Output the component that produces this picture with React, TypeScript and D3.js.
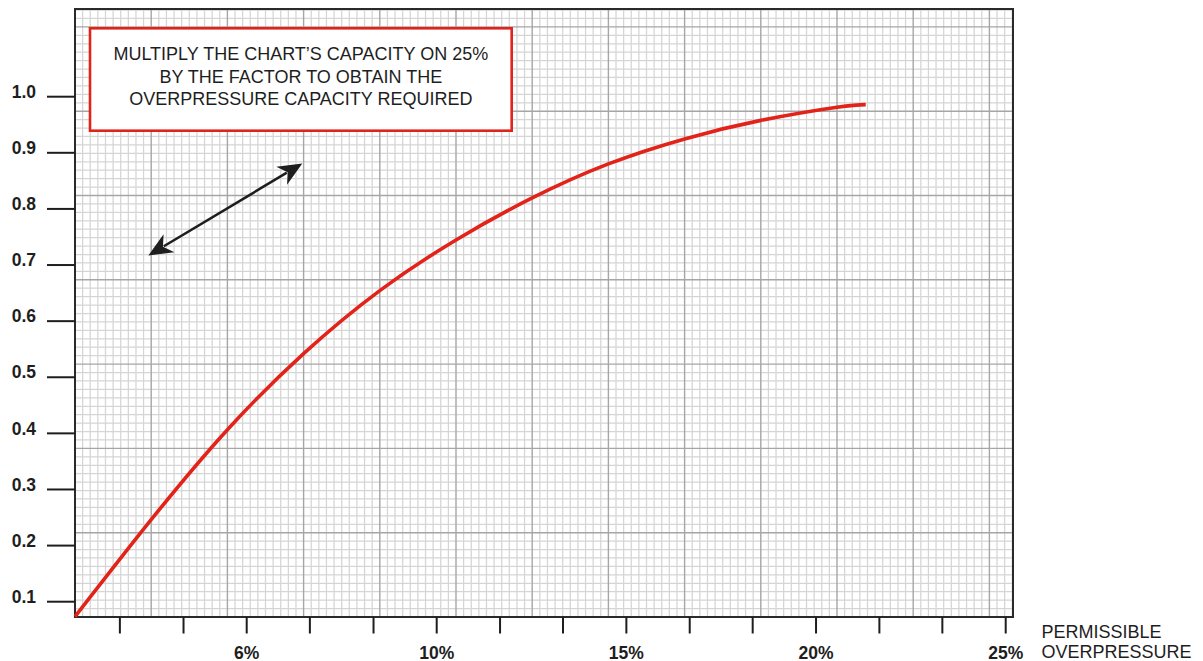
import React from "react";
import * as d3 from "d3";

// ---- data ----
const overpressure = [2.385, 3.989, 5.594, 7.198, 8.802, 10.509, 12.518, 14.527, 16.536, 18.545, 20.554, 21.31];
const factor = [0.0733, 0.2462, 0.4066, 0.5421, 0.6544, 0.7447, 0.8196, 0.8802, 0.9248, 0.9578, 0.9813, 0.9859];

const xTickValues = [3.33, 4.67, 6, 7.33, 8.67, 10, 11.67, 13.33, 15, 16.67, 18.33, 20, 21.67, 23.33, 25];
const xLabelValues = [6, 10, 15, 20, 25];
const xLabelTexts = ["6%", "10%", "15%", "20%", "25%"];

const yTickValues = [0.1, 0.2, 0.3, 0.4, 0.5, 0.6, 0.7, 0.8, 0.9, 1.0];
const yTickLabels = ["0.1", "0.2", "0.3", "0.4", "0.5", "0.6", "0.7", "0.8", "0.9", "1.0"];

const noteLines = [
  "MULTIPLY THE CHART\u2019S CAPACITY ON 25%",
  "BY THE FACTOR TO OBTAIN THE",
  "OVERPRESSURE CAPACITY REQUIRED",
];
const axisTitleLines = ["PERMISSIBLE", "OVERPRESSURE"];

// arrow annotation endpoints, in data units
const arrowFrom = [3.93, 0.717];
const arrowTo = [7.17, 0.881];

// ---- layout ----
const W = 1203;
const H = 661;
const left = 75;
const right = 1013;
const top = 9;
const bottom = 617;
const majorW = 76.2;
const majorH = 84.3;

const FONT = "'Liberation Sans', Arial, Helvetica, sans-serif";
const RED = "#e2231a";
const INK = "#1e1e1e";

const x = d3.scaleLinear().domain([6, 10, 25]).range([246.7, 436.7, 1005.7]);
const y = d3.scaleLinear().domain([0.1, 1.0]).range([601.7, 96.7]);

function arrowHead(tx: number, ty: number, fx: number, fy: number) {
  const dx = fx - tx;
  const dy = fy - ty;
  const len = Math.hypot(dx, dy);
  const ux = dx / len;
  const uy = dy / len;
  const px = -uy;
  const py = ux;
  const L = 24;
  const hw = 10.5;
  const notch = 17;
  const b1 = [tx + ux * L + px * hw, ty + uy * L + py * hw];
  const b2 = [tx + ux * L - px * hw, ty + uy * L - py * hw];
  const n = [tx + ux * notch, ty + uy * notch];
  return `M${tx},${ty}L${b1[0]},${b1[1]}L${n[0]},${n[1]}L${b2[0]},${b2[1]}Z`;
}

export default function App() {
  const minorW = majorW / 10;
  const minorH = majorH / 10;
  const nV = Math.floor((right - left) / minorW + 1e-6);
  const nH = Math.floor((bottom - top) / minorH + 1e-6);
  const vLines = d3.range(0, nV + 1).map((k) => ({ px: left + k * minorW, major: k % 10 === 0 }));
  const hLines = d3.range(0, nH + 1).map((k) => ({ py: bottom - k * minorH, major: k % 10 === 0 }));

  const pts = overpressure.map((v, i) => [v, factor[i]] as [number, number]);
  const line = d3
    .line<[number, number]>()
    .x((d) => x(d[0]))
    .y((d) => y(d[1]))
    .curve(d3.curveNatural);

  const ax0 = x(arrowFrom[0]);
  const ay0 = y(arrowFrom[1]);
  const ax1 = x(arrowTo[0]);
  const ay1 = y(arrowTo[1]);
  const adx = ax1 - ax0;
  const ady = ay1 - ay0;
  const alen = Math.hypot(adx, ady);
  const inset = 18;

  const boxX = 90;
  const boxY = 28.3;
  const boxW = 421.7;
  const boxH = 102.4;

  return (
    <svg
      width={W}
      height={H}
      viewBox={`0 0 ${W} ${H}`}
      style={{ position: "absolute", left: 0, top: 0, background: "#fff" }}
    >
      <rect x={0} y={0} width={W} height={H} fill="#fff" />
      {/* graph paper */}
      <g>
        {vLines
          .filter((l) => !l.major)
          .map((l, i) => (
            <line key={"vm" + i} x1={l.px} x2={l.px} y1={top} y2={bottom} stroke="#d5d5d5" strokeWidth={1.25} />
          ))}
        {hLines
          .filter((l) => !l.major)
          .map((l, i) => (
            <line key={"hm" + i} x1={left} x2={right} y1={l.py} y2={l.py} stroke="#d5d5d5" strokeWidth={1.25} />
          ))}
        {vLines
          .filter((l) => l.major)
          .map((l, i) => (
            <line key={"vM" + i} x1={l.px} x2={l.px} y1={top} y2={bottom} stroke="#a6a6a6" strokeWidth={1.4} />
          ))}
        {hLines
          .filter((l) => l.major)
          .map((l, i) => (
            <line key={"hM" + i} x1={left} x2={right} y1={l.py} y2={l.py} stroke="#a6a6a6" strokeWidth={1.4} />
          ))}
      </g>
      {/* frame */}
      <rect x={left} y={top} width={right - left} height={bottom - top} fill="none" stroke="#2a2a2a" strokeWidth={2} />

      {/* y axis ticks */}
      <g>
        {yTickValues.map((v, i) => (
          <g key={"yt" + i}>
            <line x1={47} x2={left} y1={y(v)} y2={y(v)} stroke={INK} strokeWidth={2} />
            <text
              x={36}
              y={y(v) + 1.2}
              textAnchor="end"
              fontFamily={FONT}
              fontWeight="bold"
              fontSize={17.5}
              fill={INK}
            >
              {yTickLabels[i]}
            </text>
          </g>
        ))}
      </g>

      {/* x axis ticks */}
      <g>
        {xTickValues.map((v, i) => (
          <line key={"xt" + i} x1={x(v)} x2={x(v)} y1={bottom} y2={633.5} stroke={INK} strokeWidth={2} />
        ))}
        {xLabelValues.map((v, i) => (
          <text
            key={"xl" + i}
            x={x(v)}
            y={658.5}
            textAnchor="middle"
            fontFamily={FONT}
            fontWeight="bold"
            fontSize={17.5}
            fill={INK}
          >
            {xLabelTexts[i]}
          </text>
        ))}
        {axisTitleLines.map((t, i) => (
          <text key={"at" + i} x={1041.5} y={638.3 + i * 20} fontFamily={FONT} fontSize={18} fill={INK}>
            {t}
          </text>
        ))}
      </g>

      {/* curve */}
      <path d={line(pts) || ""} fill="none" stroke={RED} strokeWidth={3.6} strokeLinecap="butt" />

      {/* note box */}
      <rect x={boxX} y={boxY} width={boxW} height={boxH} fill="#fff" stroke={RED} strokeWidth={2.6} />
      {noteLines.map((t, i) => (
        <text
          key={"n" + i}
          x={boxX + boxW / 2}
          y={60 + i * 22.6}
          textAnchor="middle"
          fontFamily={FONT}
          fontSize={18}
          fill={INK}
        >
          {t}
        </text>
      ))}

      {/* double arrow */}
      <line
        x1={ax0 + (adx / alen) * inset}
        y1={ay0 + (ady / alen) * inset}
        x2={ax1 - (adx / alen) * inset}
        y2={ay1 - (ady / alen) * inset}
        stroke={INK}
        strokeWidth={2.6}
      />
      <path d={arrowHead(ax0, ay0, ax1, ay1)} fill={INK} />
      <path d={arrowHead(ax1, ay1, ax0, ay0)} fill={INK} />
    </svg>
  );
}
